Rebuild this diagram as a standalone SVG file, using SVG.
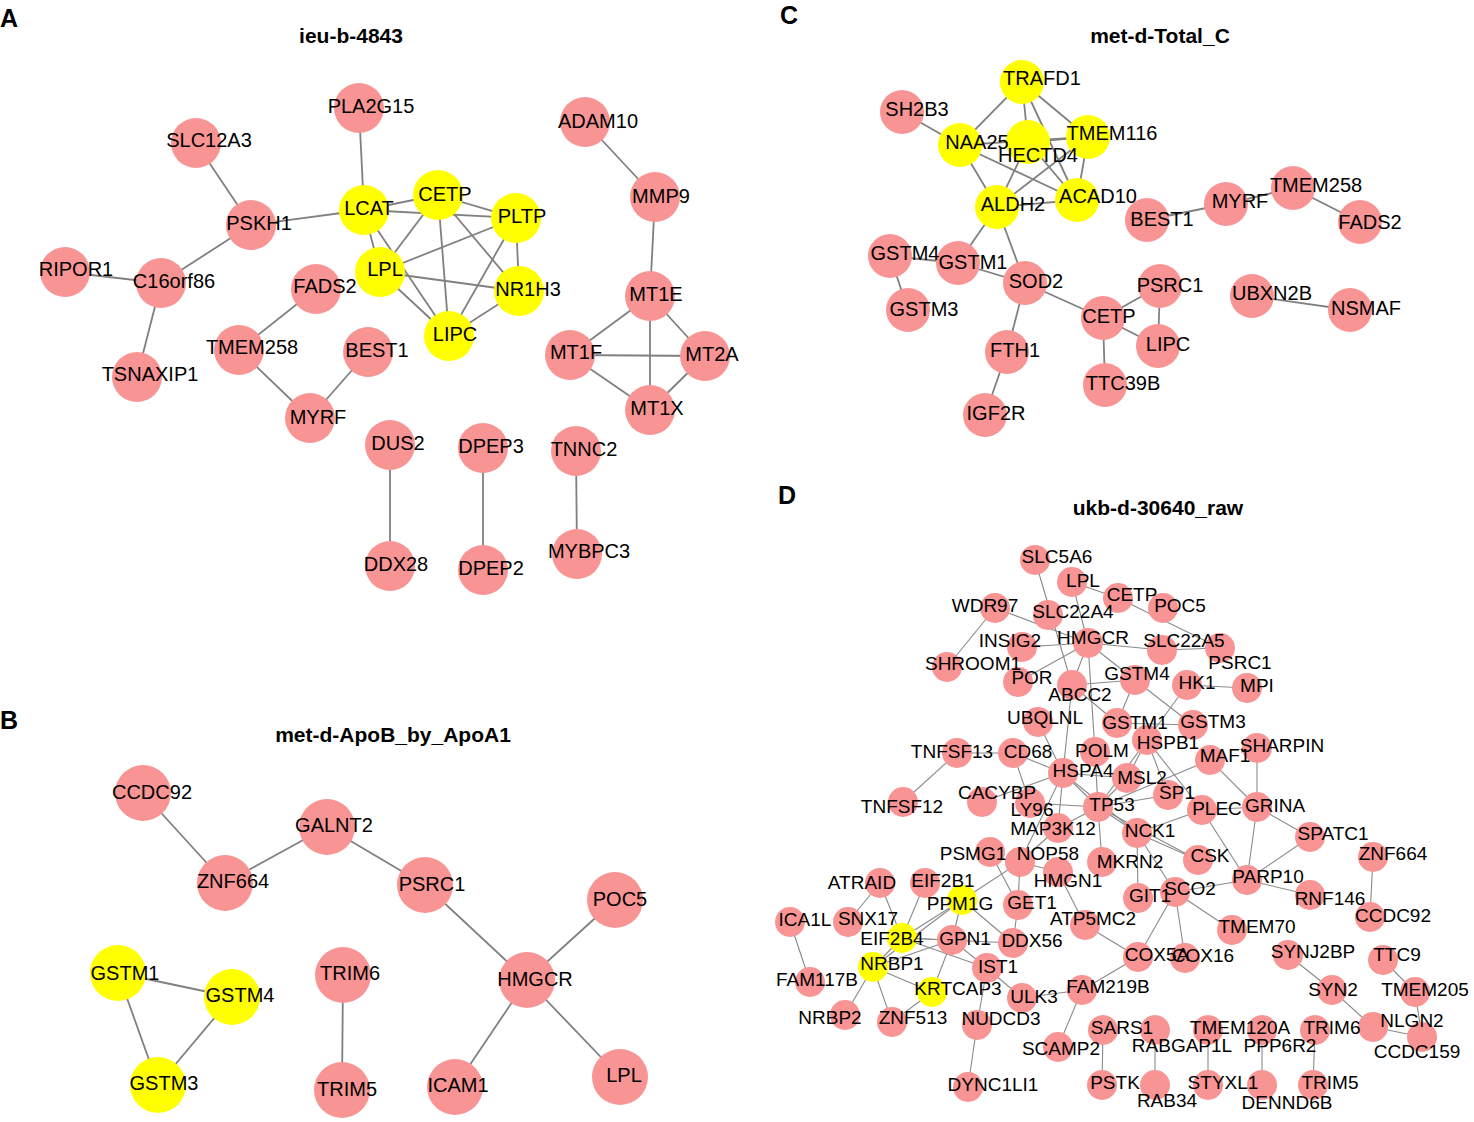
<svg xmlns="http://www.w3.org/2000/svg" width="1474" height="1122" viewBox="0 0 1474 1122">
<style>
.bg{fill:#fff}
.p{fill:#F99494}
.y{fill:#FFFF00}
.e line{stroke:#808080;stroke-width:1.8}
.ed line{stroke:#8a8a8a;stroke-width:1.1}
text{font-family:"Liberation Sans",Arial,sans-serif;font-size:20px;fill:#000;text-anchor:middle}
.d text{font-size:19px}
.ttl{font-weight:bold;font-size:21px}
.let{font-weight:bold;font-size:25px;text-anchor:start}
</style>
<rect class="bg" width="1474" height="1122"/>
<text class="let" x="0" y="27">A</text>
<text class="let" x="0" y="729">B</text>
<text class="let" x="780" y="24">C</text>
<text class="let" x="778" y="504">D</text>
<text class="ttl" x="351" y="43">ieu-b-4843</text>
<text class="ttl" x="393" y="742">met-d-ApoB_by_ApoA1</text>
<text class="ttl" x="1160" y="43">met-d-Total_C</text>
<text class="ttl" x="1158" y="515">ukb-d-30640_raw</text>

<g id="connectors">
<g class="e">
<line x1="359" y1="108" x2="364" y2="210"/>
<line x1="196" y1="143" x2="251" y2="225"/>
<line x1="251" y1="225" x2="364" y2="210"/>
<line x1="251" y1="225" x2="161" y2="283"/>
<line x1="65" y1="272" x2="161" y2="283"/>
<line x1="161" y1="283" x2="137" y2="377"/>
<line x1="316" y1="289" x2="239" y2="350"/>
<line x1="239" y1="350" x2="310" y2="418"/>
<line x1="310" y1="418" x2="368" y2="352"/>
<line x1="364" y1="210" x2="438" y2="195"/>
<line x1="364" y1="210" x2="516" y2="218"/>
<line x1="364" y1="210" x2="380" y2="272"/>
<line x1="364" y1="210" x2="449" y2="336"/>
<line x1="438" y1="195" x2="516" y2="218"/>
<line x1="438" y1="195" x2="380" y2="272"/>
<line x1="438" y1="195" x2="449" y2="336"/>
<line x1="438" y1="195" x2="519" y2="291"/>
<line x1="516" y1="218" x2="380" y2="272"/>
<line x1="516" y1="218" x2="519" y2="291"/>
<line x1="516" y1="218" x2="449" y2="336"/>
<line x1="380" y1="272" x2="519" y2="291"/>
<line x1="380" y1="272" x2="449" y2="336"/>
<line x1="519" y1="291" x2="449" y2="336"/>
<line x1="585" y1="122" x2="655" y2="197"/>
<line x1="655" y1="197" x2="650" y2="296"/>
<line x1="650" y1="296" x2="570" y2="355"/>
<line x1="650" y1="296" x2="705" y2="356"/>
<line x1="650" y1="296" x2="650" y2="410"/>
<line x1="570" y1="355" x2="705" y2="356"/>
<line x1="570" y1="355" x2="650" y2="410"/>
<line x1="705" y1="356" x2="650" y2="410"/>
<line x1="390" y1="445" x2="390" y2="566"/>
<line x1="483" y1="448" x2="483" y2="570"/>
<line x1="576" y1="451" x2="577" y2="554"/>
<line x1="143" y1="793" x2="225" y2="883"/>
<line x1="225" y1="883" x2="327" y2="827"/>
<line x1="327" y1="827" x2="425" y2="885"/>
<line x1="425" y1="885" x2="527" y2="980"/>
<line x1="615" y1="900" x2="527" y2="980"/>
<line x1="527" y1="980" x2="455" y2="1087"/>
<line x1="527" y1="980" x2="620" y2="1077"/>
<line x1="118" y1="973" x2="232" y2="997"/>
<line x1="118" y1="973" x2="158" y2="1085"/>
<line x1="232" y1="997" x2="158" y2="1085"/>
<line x1="343" y1="975" x2="342" y2="1090"/>
<line x1="1022" y1="82" x2="960" y2="145"/>
<line x1="1022" y1="82" x2="1028" y2="142"/>
<line x1="1022" y1="82" x2="1088" y2="137"/>
<line x1="1022" y1="82" x2="1077" y2="200"/>
<line x1="902" y1="112" x2="960" y2="145"/>
<line x1="960" y1="145" x2="1088" y2="137"/>
<line x1="960" y1="145" x2="997" y2="207"/>
<line x1="960" y1="145" x2="1077" y2="200"/>
<line x1="1028" y1="142" x2="1088" y2="137"/>
<line x1="1028" y1="142" x2="997" y2="207"/>
<line x1="1028" y1="142" x2="1077" y2="200"/>
<line x1="1088" y1="137" x2="997" y2="207"/>
<line x1="1088" y1="137" x2="1077" y2="200"/>
<line x1="997" y1="207" x2="1077" y2="200"/>
<line x1="997" y1="207" x2="958" y2="263"/>
<line x1="997" y1="207" x2="1025" y2="283"/>
<line x1="890" y1="256" x2="958" y2="263"/>
<line x1="890" y1="256" x2="908" y2="310"/>
<line x1="958" y1="263" x2="1025" y2="283"/>
<line x1="1025" y1="283" x2="1103" y2="318"/>
<line x1="1025" y1="283" x2="1007" y2="352"/>
<line x1="1007" y1="352" x2="985" y2="415"/>
<line x1="1103" y1="318" x2="1160" y2="286"/>
<line x1="1103" y1="318" x2="1158" y2="346"/>
<line x1="1103" y1="318" x2="1105" y2="385"/>
<line x1="1160" y1="286" x2="1158" y2="346"/>
<line x1="1147" y1="220" x2="1226" y2="204"/>
<line x1="1226" y1="204" x2="1293" y2="188"/>
<line x1="1293" y1="188" x2="1360" y2="222"/>
<line x1="1252" y1="296" x2="1350" y2="310"/>
</g>
<g class="ed">
<line x1="995" y1="608" x2="947" y2="667"/>
<line x1="995" y1="608" x2="1088" y2="643"/>
<line x1="1035" y1="560" x2="1072" y2="685"/>
<line x1="1072" y1="582" x2="1088" y2="643"/>
<line x1="1072" y1="582" x2="1118" y2="598"/>
<line x1="1118" y1="598" x2="1220" y2="648"/>
<line x1="1022" y1="647" x2="1088" y2="643"/>
<line x1="1088" y1="643" x2="1162" y2="650"/>
<line x1="1162" y1="650" x2="1220" y2="648"/>
<line x1="1088" y1="643" x2="1018" y2="682"/>
<line x1="1088" y1="643" x2="1072" y2="685"/>
<line x1="1088" y1="643" x2="1135" y2="680"/>
<line x1="1088" y1="643" x2="1095" y2="752"/>
<line x1="1072" y1="685" x2="1135" y2="680"/>
<line x1="1072" y1="685" x2="1117" y2="723"/>
<line x1="1072" y1="685" x2="1063" y2="773"/>
<line x1="1038" y1="722" x2="1063" y2="773"/>
<line x1="1135" y1="680" x2="1117" y2="723"/>
<line x1="1135" y1="680" x2="1193" y2="725"/>
<line x1="1117" y1="723" x2="1193" y2="725"/>
<line x1="1187" y1="685" x2="1247" y2="688"/>
<line x1="1187" y1="685" x2="1147" y2="740"/>
<line x1="1147" y1="740" x2="1168" y2="795"/>
<line x1="1147" y1="740" x2="1202" y2="810"/>
<line x1="1147" y1="740" x2="1098" y2="807"/>
<line x1="1147" y1="740" x2="1127" y2="778"/>
<line x1="1098" y1="807" x2="1210" y2="760"/>
<line x1="1210" y1="760" x2="1257" y2="807"/>
<line x1="1257" y1="748" x2="1257" y2="807"/>
<line x1="957" y1="753" x2="903" y2="802"/>
<line x1="957" y1="753" x2="1013" y2="753"/>
<line x1="1013" y1="753" x2="1063" y2="773"/>
<line x1="1013" y1="753" x2="1030" y2="803"/>
<line x1="982" y1="802" x2="1063" y2="773"/>
<line x1="1030" y1="803" x2="1098" y2="807"/>
<line x1="1063" y1="773" x2="1098" y2="807"/>
<line x1="1063" y1="773" x2="1127" y2="778"/>
<line x1="1063" y1="773" x2="1058" y2="828"/>
<line x1="1063" y1="773" x2="1137" y2="833"/>
<line x1="1063" y1="773" x2="1020" y2="862"/>
<line x1="1095" y1="752" x2="1098" y2="807"/>
<line x1="1127" y1="778" x2="1098" y2="807"/>
<line x1="1098" y1="807" x2="1168" y2="795"/>
<line x1="1098" y1="807" x2="1137" y2="833"/>
<line x1="1098" y1="807" x2="1058" y2="828"/>
<line x1="1098" y1="807" x2="1102" y2="862"/>
<line x1="1098" y1="807" x2="1198" y2="860"/>
<line x1="1058" y1="828" x2="1020" y2="862"/>
<line x1="1020" y1="862" x2="1058" y2="872"/>
<line x1="1020" y1="862" x2="1018" y2="905"/>
<line x1="1020" y1="862" x2="962" y2="900"/>
<line x1="990" y1="852" x2="1018" y2="905"/>
<line x1="1058" y1="872" x2="1085" y2="925"/>
<line x1="1137" y1="833" x2="1202" y2="810"/>
<line x1="1137" y1="833" x2="1198" y2="860"/>
<line x1="1137" y1="833" x2="1175" y2="892"/>
<line x1="1137" y1="833" x2="1138" y2="898"/>
<line x1="1202" y1="810" x2="1257" y2="807"/>
<line x1="1202" y1="810" x2="1247" y2="880"/>
<line x1="1257" y1="807" x2="1247" y2="880"/>
<line x1="1257" y1="807" x2="1310" y2="837"/>
<line x1="1310" y1="837" x2="1247" y2="880"/>
<line x1="1247" y1="880" x2="1310" y2="895"/>
<line x1="1247" y1="880" x2="1175" y2="892"/>
<line x1="1175" y1="892" x2="1232" y2="930"/>
<line x1="1175" y1="892" x2="1138" y2="957"/>
<line x1="1175" y1="892" x2="1185" y2="958"/>
<line x1="1373" y1="857" x2="1370" y2="917"/>
<line x1="1085" y1="925" x2="1138" y2="957"/>
<line x1="1138" y1="957" x2="1082" y2="990"/>
<line x1="1082" y1="990" x2="1022" y2="998"/>
<line x1="1082" y1="990" x2="1058" y2="1047"/>
<line x1="790" y1="922" x2="810" y2="982"/>
<line x1="880" y1="883" x2="848" y2="922"/>
<line x1="880" y1="883" x2="902" y2="938"/>
<line x1="925" y1="883" x2="902" y2="938"/>
<line x1="902" y1="938" x2="962" y2="900"/>
<line x1="902" y1="938" x2="952" y2="940"/>
<line x1="902" y1="938" x2="1013" y2="943"/>
<line x1="902" y1="938" x2="987" y2="968"/>
<line x1="902" y1="938" x2="873" y2="967"/>
<line x1="873" y1="967" x2="962" y2="900"/>
<line x1="873" y1="967" x2="952" y2="940"/>
<line x1="873" y1="967" x2="932" y2="992"/>
<line x1="873" y1="967" x2="845" y2="1015"/>
<line x1="873" y1="967" x2="892" y2="1022"/>
<line x1="932" y1="992" x2="892" y2="1022"/>
<line x1="932" y1="992" x2="952" y2="940"/>
<line x1="952" y1="940" x2="962" y2="900"/>
<line x1="962" y1="900" x2="1013" y2="943"/>
<line x1="952" y1="940" x2="987" y2="968"/>
<line x1="987" y1="968" x2="977" y2="1025"/>
<line x1="987" y1="968" x2="1022" y2="998"/>
<line x1="977" y1="1025" x2="968" y2="1087"/>
<line x1="1018" y1="905" x2="1013" y2="943"/>
<line x1="1103" y1="1030" x2="1102" y2="1085"/>
<line x1="1155" y1="1030" x2="1155" y2="1085"/>
<line x1="1208" y1="1030" x2="1208" y2="1085"/>
<line x1="1262" y1="1030" x2="1262" y2="1085"/>
<line x1="1315" y1="1030" x2="1313" y2="1085"/>
<line x1="1288" y1="955" x2="1332" y2="990"/>
<line x1="1332" y1="990" x2="1373" y2="1027"/>
<line x1="1383" y1="960" x2="1415" y2="992"/>
<line x1="1415" y1="992" x2="1422" y2="1037"/>
<line x1="1373" y1="1027" x2="1422" y2="1037"/>
</g>
</g>

<g id="panelA">
<g id="a-PLA2G15"><circle class="p" cx="359" cy="108" r="25"/><text x="371" y="113">PLA2G15</text></g>
<g id="a-SLC12A3"><circle class="p" cx="196" cy="143" r="25"/><text x="209" y="147">SLC12A3</text></g>
<g id="a-PSKH1"><circle class="p" cx="251" cy="225" r="25"/><text x="259" y="230">PSKH1</text></g>
<g id="a-LCAT"><circle class="y" cx="364" cy="210" r="25"/><text x="369" y="215">LCAT</text></g>
<g id="a-CETP"><circle class="y" cx="438" cy="195" r="25"/><text x="445" y="201">CETP</text></g>
<g id="a-PLTP"><circle class="y" cx="516" cy="218" r="25"/><text x="522" y="223">PLTP</text></g>
<g id="a-LPL"><circle class="y" cx="380" cy="272" r="25"/><text x="385" y="276">LPL</text></g>
<g id="a-NR1H3"><circle class="y" cx="519" cy="291" r="25"/><text x="528" y="296">NR1H3</text></g>
<g id="a-LIPC"><circle class="y" cx="449" cy="336" r="25"/><text x="455" y="341">LIPC</text></g>
<g id="a-RIPOR1"><circle class="p" cx="65" cy="272" r="25"/><text x="76" y="276">RIPOR1</text></g>
<g id="a-C16orf86"><circle class="p" cx="161" cy="283" r="25"/><text x="174" y="288">C16orf86</text></g>
<g id="a-FADS2"><circle class="p" cx="316" cy="289" r="25"/><text x="325" y="293">FADS2</text></g>
<g id="a-TMEM258"><circle class="p" cx="239" cy="350" r="25"/><text x="252" y="354">TMEM258</text></g>
<g id="a-BEST1"><circle class="p" cx="368" cy="352" r="25"/><text x="377" y="357">BEST1</text></g>
<g id="a-TSNAXIP1"><circle class="p" cx="137" cy="377" r="25"/><text x="150" y="381">TSNAXIP1</text></g>
<g id="a-MYRF"><circle class="p" cx="310" cy="418" r="25"/><text x="318" y="424">MYRF</text></g>
<g id="a-ADAM10"><circle class="p" cx="585" cy="122" r="25"/><text x="598" y="128">ADAM10</text></g>
<g id="a-MMP9"><circle class="p" cx="655" cy="197" r="25"/><text x="661" y="203">MMP9</text></g>
<g id="a-MT1E"><circle class="p" cx="650" cy="296" r="25"/><text x="656" y="301">MT1E</text></g>
<g id="a-MT1F"><circle class="p" cx="570" cy="355" r="25"/><text x="576" y="359">MT1F</text></g>
<g id="a-MT2A"><circle class="p" cx="705" cy="356" r="25"/><text x="712" y="361">MT2A</text></g>
<g id="a-MT1X"><circle class="p" cx="650" cy="410" r="25"/><text x="657" y="415">MT1X</text></g>
<g id="a-DUS2"><circle class="p" cx="390" cy="445" r="25"/><text x="398" y="450">DUS2</text></g>
<g id="a-DDX28"><circle class="p" cx="390" cy="566" r="25"/><text x="396" y="571">DDX28</text></g>
<g id="a-DPEP3"><circle class="p" cx="483" cy="448" r="25"/><text x="491" y="453">DPEP3</text></g>
<g id="a-DPEP2"><circle class="p" cx="483" cy="570" r="25"/><text x="491" y="575">DPEP2</text></g>
<g id="a-TNNC2"><circle class="p" cx="576" cy="451" r="25"/><text x="584" y="456">TNNC2</text></g>
<g id="a-MYBPC3"><circle class="p" cx="577" cy="554" r="25"/><text x="589" y="558">MYBPC3</text></g>
</g>

<g id="panelB">
<g id="b-CCDC92"><circle class="p" cx="143" cy="793" r="28"/><text x="152" y="799">CCDC92</text></g>
<g id="b-GALNT2"><circle class="p" cx="327" cy="827" r="28"/><text x="334" y="832">GALNT2</text></g>
<g id="b-ZNF664"><circle class="p" cx="225" cy="883" r="28"/><text x="233" y="888">ZNF664</text></g>
<g id="b-PSRC1"><circle class="p" cx="425" cy="885" r="28"/><text x="432" y="891">PSRC1</text></g>
<g id="b-POC5"><circle class="p" cx="615" cy="900" r="28"/><text x="620" y="906">POC5</text></g>
<g id="b-HMGCR"><circle class="p" cx="527" cy="980" r="28"/><text x="535" y="986">HMGCR</text></g>
<g id="b-GSTM1"><circle class="y" cx="118" cy="973" r="28"/><text x="125" y="980">GSTM1</text></g>
<g id="b-GSTM4"><circle class="y" cx="232" cy="997" r="28"/><text x="240" y="1002">GSTM4</text></g>
<g id="b-GSTM3"><circle class="y" cx="158" cy="1085" r="28"/><text x="164" y="1090">GSTM3</text></g>
<g id="b-TRIM6"><circle class="p" cx="343" cy="975" r="28"/><text x="350" y="980">TRIM6</text></g>
<g id="b-TRIM5"><circle class="p" cx="342" cy="1090" r="28"/><text x="347" y="1096">TRIM5</text></g>
<g id="b-ICAM1"><circle class="p" cx="455" cy="1087" r="28"/><text x="458" y="1092">ICAM1</text></g>
<g id="b-LPL"><circle class="p" cx="620" cy="1077" r="28"/><text x="624" y="1082">LPL</text></g>
</g>

<g id="panelC">
<g id="c-TRAFD1"><circle class="y" cx="1022" cy="82" r="22"/></g>
<g id="c-SH2B3"><circle class="p" cx="902" cy="112" r="22"/></g>
<g id="c-NAA25"><circle class="y" cx="960" cy="145" r="22"/></g>
<g id="c-HECTD4"><circle class="y" cx="1028" cy="142" r="22"/></g>
<g id="c-TMEM116"><circle class="y" cx="1088" cy="137" r="22"/></g>
<g id="c-ALDH2"><circle class="y" cx="997" cy="207" r="22"/></g>
<g id="c-ACAD10"><circle class="y" cx="1077" cy="200" r="22"/></g>
<g id="c-BEST1"><circle class="p" cx="1147" cy="220" r="22"/></g>
<g id="c-MYRF"><circle class="p" cx="1226" cy="204" r="22"/></g>
<g id="c-TMEM258"><circle class="p" cx="1293" cy="188" r="22"/></g>
<g id="c-FADS2"><circle class="p" cx="1360" cy="222" r="22"/></g>
<g id="c-GSTM4"><circle class="p" cx="890" cy="256" r="22"/></g>
<g id="c-GSTM1"><circle class="p" cx="958" cy="263" r="22"/></g>
<g id="c-GSTM3"><circle class="p" cx="908" cy="310" r="22"/></g>
<g id="c-SOD2"><circle class="p" cx="1025" cy="283" r="22"/></g>
<g id="c-PSRC1"><circle class="p" cx="1160" cy="286" r="22"/></g>
<g id="c-CETP"><circle class="p" cx="1103" cy="318" r="22"/></g>
<g id="c-LIPC"><circle class="p" cx="1158" cy="346" r="22"/></g>
<g id="c-FTH1"><circle class="p" cx="1007" cy="352" r="22"/></g>
<g id="c-TTC39B"><circle class="p" cx="1105" cy="385" r="22"/></g>
<g id="c-IGF2R"><circle class="p" cx="985" cy="415" r="22"/></g>
<g id="c-UBXN2B"><circle class="p" cx="1252" cy="296" r="22"/></g>
<g id="c-NSMAF"><circle class="p" cx="1350" cy="310" r="22"/></g>
</g>
<g id="panelC-labels">
<text x="1042" y="85">TRAFD1</text>
<text x="917" y="116">SH2B3</text>
<text x="977" y="149">NAA25</text>
<text x="1038" y="162">HECTD4</text>
<text x="1112" y="140">TMEM116</text>
<text x="1013" y="211">ALDH2</text>
<text x="1098" y="203">ACAD10</text>
<text x="1162" y="226">BEST1</text>
<text x="1240" y="208">MYRF</text>
<text x="1316" y="192">TMEM258</text>
<text x="1370" y="229">FADS2</text>
<text x="905" y="260">GSTM4</text>
<text x="973" y="269">GSTM1</text>
<text x="924" y="316">GSTM3</text>
<text x="1036" y="288">SOD2</text>
<text x="1170" y="292">PSRC1</text>
<text x="1109" y="323">CETP</text>
<text x="1168" y="351">LIPC</text>
<text x="1015" y="357">FTH1</text>
<text x="1123" y="390">TTC39B</text>
<text x="996" y="420">IGF2R</text>
<text x="1272" y="300">UBXN2B</text>
<text x="1366" y="315">NSMAF</text>
</g>

<g id="panelD">
<g id="d-SLC5A6"><circle class="p" cx="1035" cy="560" r="15"/></g>
<g id="d-LPL"><circle class="p" cx="1072" cy="582" r="15"/></g>
<g id="d-CETP"><circle class="p" cx="1118" cy="598" r="15"/></g>
<g id="d-POC5"><circle class="p" cx="1163" cy="608" r="15"/></g>
<g id="d-WDR97"><circle class="p" cx="995" cy="608" r="15"/></g>
<g id="d-SLC22A4"><circle class="p" cx="1048" cy="615" r="15"/></g>
<g id="d-INSIG2"><circle class="p" cx="1022" cy="647" r="15"/></g>
<g id="d-HMGCR"><circle class="p" cx="1088" cy="643" r="15"/></g>
<g id="d-SLC22A5"><circle class="p" cx="1162" cy="650" r="15"/></g>
<g id="d-PSRC1"><circle class="p" cx="1220" cy="648" r="15"/></g>
<g id="d-SHROOM1"><circle class="p" cx="947" cy="667" r="15"/></g>
<g id="d-POR"><circle class="p" cx="1018" cy="682" r="15"/></g>
<g id="d-ABCC2"><circle class="p" cx="1072" cy="685" r="15"/></g>
<g id="d-GSTM4"><circle class="p" cx="1135" cy="680" r="15"/></g>
<g id="d-HK1"><circle class="p" cx="1187" cy="685" r="15"/></g>
<g id="d-MPI"><circle class="p" cx="1247" cy="688" r="15"/></g>
<g id="d-UBQLNL"><circle class="p" cx="1038" cy="722" r="15"/></g>
<g id="d-GSTM1"><circle class="p" cx="1117" cy="723" r="15"/></g>
<g id="d-GSTM3"><circle class="p" cx="1193" cy="725" r="15"/></g>
<g id="d-HSPB1"><circle class="p" cx="1147" cy="740" r="15"/></g>
<g id="d-SHARPIN"><circle class="p" cx="1257" cy="748" r="15"/></g>
<g id="d-MAF1"><circle class="p" cx="1210" cy="760" r="15"/></g>
<g id="d-TNFSF13"><circle class="p" cx="957" cy="753" r="15"/></g>
<g id="d-CD68"><circle class="p" cx="1013" cy="753" r="15"/></g>
<g id="d-POLM"><circle class="p" cx="1095" cy="752" r="15"/></g>
<g id="d-HSPA4"><circle class="p" cx="1063" cy="773" r="15"/></g>
<g id="d-MSL2"><circle class="p" cx="1127" cy="778" r="15"/></g>
<g id="d-TNFSF12"><circle class="p" cx="903" cy="802" r="15"/></g>
<g id="d-CACYBP"><circle class="p" cx="982" cy="802" r="15"/></g>
<g id="d-LY96"><circle class="p" cx="1030" cy="803" r="15"/></g>
<g id="d-TP53"><circle class="p" cx="1098" cy="807" r="15"/></g>
<g id="d-SP1"><circle class="p" cx="1168" cy="795" r="15"/></g>
<g id="d-PLEC"><circle class="p" cx="1202" cy="810" r="15"/></g>
<g id="d-GRINA"><circle class="p" cx="1257" cy="807" r="15"/></g>
<g id="d-MAP3K12"><circle class="p" cx="1058" cy="828" r="15"/></g>
<g id="d-NCK1"><circle class="p" cx="1137" cy="833" r="15"/></g>
<g id="d-SPATC1"><circle class="p" cx="1310" cy="837" r="15"/></g>
<g id="d-PSMG1"><circle class="p" cx="990" cy="852" r="15"/></g>
<g id="d-NOP58"><circle class="p" cx="1020" cy="862" r="15"/></g>
<g id="d-MKRN2"><circle class="p" cx="1102" cy="862" r="15"/></g>
<g id="d-CSK"><circle class="p" cx="1198" cy="860" r="15"/></g>
<g id="d-ZNF664"><circle class="p" cx="1373" cy="857" r="15"/></g>
<g id="d-HMGN1"><circle class="p" cx="1058" cy="872" r="15"/></g>
<g id="d-PARP10"><circle class="p" cx="1247" cy="880" r="15"/></g>
<g id="d-ATRAID"><circle class="p" cx="880" cy="883" r="15"/></g>
<g id="d-EIF2B1"><circle class="p" cx="925" cy="883" r="15"/></g>
<g id="d-GIT1"><circle class="p" cx="1138" cy="898" r="15"/></g>
<g id="d-SCO2"><circle class="p" cx="1175" cy="892" r="15"/></g>
<g id="d-RNF146"><circle class="p" cx="1310" cy="895" r="15"/></g>
<g id="d-PPM1G"><circle class="y" cx="962" cy="900" r="15"/></g>
<g id="d-GET1"><circle class="p" cx="1018" cy="905" r="15"/></g>
<g id="d-ICA1L"><circle class="p" cx="790" cy="922" r="15"/></g>
<g id="d-SNX17"><circle class="p" cx="848" cy="922" r="15"/></g>
<g id="d-CCDC92"><circle class="p" cx="1370" cy="917" r="15"/></g>
<g id="d-ATP5MC2"><circle class="p" cx="1085" cy="925" r="15"/></g>
<g id="d-TMEM70"><circle class="p" cx="1232" cy="930" r="15"/></g>
<g id="d-EIF2B4"><circle class="y" cx="902" cy="938" r="15"/></g>
<g id="d-GPN1"><circle class="p" cx="952" cy="940" r="15"/></g>
<g id="d-DDX56"><circle class="p" cx="1013" cy="943" r="15"/></g>
<g id="d-COX5A"><circle class="p" cx="1138" cy="957" r="15"/></g>
<g id="d-COX16"><circle class="p" cx="1185" cy="958" r="15"/></g>
<g id="d-SYNJ2BP"><circle class="p" cx="1288" cy="955" r="15"/></g>
<g id="d-TTC9"><circle class="p" cx="1383" cy="960" r="15"/></g>
<g id="d-NRBP1"><circle class="y" cx="873" cy="967" r="15"/></g>
<g id="d-IST1"><circle class="p" cx="987" cy="968" r="15"/></g>
<g id="d-FAM117B"><circle class="p" cx="810" cy="982" r="15"/></g>
<g id="d-FAM219B"><circle class="p" cx="1082" cy="990" r="15"/></g>
<g id="d-SYN2"><circle class="p" cx="1332" cy="990" r="15"/></g>
<g id="d-TMEM205"><circle class="p" cx="1415" cy="992" r="15"/></g>
<g id="d-KRTCAP3"><circle class="y" cx="932" cy="992" r="15"/></g>
<g id="d-ULK3"><circle class="p" cx="1022" cy="998" r="15"/></g>
<g id="d-NRBP2"><circle class="p" cx="845" cy="1015" r="15"/></g>
<g id="d-ZNF513"><circle class="p" cx="892" cy="1022" r="15"/></g>
<g id="d-NUDCD3"><circle class="p" cx="977" cy="1025" r="15"/></g>
<g id="d-NLGN2"><circle class="p" cx="1373" cy="1027" r="15"/></g>
<g id="d-CCDC159"><circle class="p" cx="1422" cy="1037" r="15"/></g>
<g id="d-SARS1"><circle class="p" cx="1103" cy="1030" r="15"/></g>
<g id="d-RABGAP1L"><circle class="p" cx="1155" cy="1030" r="15"/></g>
<g id="d-TMEM120A"><circle class="p" cx="1208" cy="1030" r="15"/></g>
<g id="d-PPP6R2"><circle class="p" cx="1262" cy="1030" r="15"/></g>
<g id="d-TRIM6"><circle class="p" cx="1315" cy="1030" r="15"/></g>
<g id="d-SCAMP2"><circle class="p" cx="1058" cy="1047" r="15"/></g>
<g id="d-DYNC1LI1"><circle class="p" cx="968" cy="1087" r="15"/></g>
<g id="d-PSTK"><circle class="p" cx="1102" cy="1085" r="15"/></g>
<g id="d-RAB34"><circle class="p" cx="1155" cy="1085" r="15"/></g>
<g id="d-STYXL1"><circle class="p" cx="1208" cy="1085" r="15"/></g>
<g id="d-DENND6B"><circle class="p" cx="1262" cy="1085" r="15"/></g>
<g id="d-TRIM5"><circle class="p" cx="1313" cy="1085" r="15"/></g>
</g>
<g id="panelD-labels" class="d">
<text x="1057" y="563">SLC5A6</text>
<text x="1083" y="587">LPL</text>
<text x="1132" y="601">CETP</text>
<text x="1180" y="612">POC5</text>
<text x="985" y="612">WDR97</text>
<text x="1073" y="618">SLC22A4</text>
<text x="1010" y="647">INSIG2</text>
<text x="1093" y="644">HMGCR</text>
<text x="1184" y="647">SLC22A5</text>
<text x="1240" y="669">PSRC1</text>
<text x="973" y="670">SHROOM1</text>
<text x="1032" y="684">POR</text>
<text x="1080" y="701">ABCC2</text>
<text x="1137" y="680">GSTM4</text>
<text x="1197" y="689">HK1</text>
<text x="1257" y="692">MPI</text>
<text x="1045" y="724">UBQLNL</text>
<text x="1135" y="729">GSTM1</text>
<text x="1213" y="728">GSTM3</text>
<text x="1168" y="749">HSPB1</text>
<text x="1282" y="752">SHARPIN</text>
<text x="1225" y="762">MAF1</text>
<text x="952" y="758">TNFSF13</text>
<text x="1028" y="758">CD68</text>
<text x="1102" y="757">POLM</text>
<text x="1083" y="777">HSPA4</text>
<text x="1142" y="784">MSL2</text>
<text x="902" y="813">TNFSF12</text>
<text x="997" y="799">CACYBP</text>
<text x="1032" y="816">LY96</text>
<text x="1112" y="811">TP53</text>
<text x="1177" y="799">SP1</text>
<text x="1217" y="815">PLEC</text>
<text x="1275" y="812">GRINA</text>
<text x="1053" y="835">MAP3K12</text>
<text x="1150" y="837">NCK1</text>
<text x="1333" y="840">SPATC1</text>
<text x="973" y="860">PSMG1</text>
<text x="1048" y="860">NOP58</text>
<text x="1130" y="868">MKRN2</text>
<text x="1210" y="862">CSK</text>
<text x="1393" y="860">ZNF664</text>
<text x="1068" y="887">HMGN1</text>
<text x="1268" y="883">PARP10</text>
<text x="862" y="889">ATRAID</text>
<text x="943" y="887">EIF2B1</text>
<text x="1150" y="902">GIT1</text>
<text x="1190" y="895">SCO2</text>
<text x="1330" y="905">RNF146</text>
<text x="960" y="910">PPM1G</text>
<text x="1032" y="909">GET1</text>
<text x="805" y="926">ICA1L</text>
<text x="868" y="925">SNX17</text>
<text x="1393" y="922">CCDC92</text>
<text x="1093" y="925">ATP5MC2</text>
<text x="1257" y="933">TMEM70</text>
<text x="892" y="945">EIF2B4</text>
<text x="965" y="945">GPN1</text>
<text x="1032" y="947">DDX56</text>
<text x="1157" y="961">COX5A</text>
<text x="1203" y="962">COX16</text>
<text x="1313" y="958">SYNJ2BP</text>
<text x="1397" y="961">TTC9</text>
<text x="892" y="970">NRBP1</text>
<text x="998" y="973">IST1</text>
<text x="817" y="986">FAM117B</text>
<text x="1108" y="993">FAM219B</text>
<text x="1333" y="996">SYN2</text>
<text x="1425" y="996">TMEM205</text>
<text x="958" y="995">KRTCAP3</text>
<text x="1034" y="1003">ULK3</text>
<text x="830" y="1024">NRBP2</text>
<text x="913" y="1024">ZNF513</text>
<text x="1001" y="1025">NUDCD3</text>
<text x="1412" y="1027">NLGN2</text>
<text x="1417" y="1058">CCDC159</text>
<text x="1122" y="1034">SARS1</text>
<text x="1182" y="1052">RABGAP1L</text>
<text x="1240" y="1034">TMEM120A</text>
<text x="1280" y="1052">PPP6R2</text>
<text x="1332" y="1034">TRIM6</text>
<text x="1061" y="1055">SCAMP2</text>
<text x="993" y="1091">DYNC1LI1</text>
<text x="1115" y="1089">PSTK</text>
<text x="1167" y="1107">RAB34</text>
<text x="1223" y="1089">STYXL1</text>
<text x="1287" y="1109">DENND6B</text>
<text x="1330" y="1089">TRIM5</text>
</g>
</svg>
